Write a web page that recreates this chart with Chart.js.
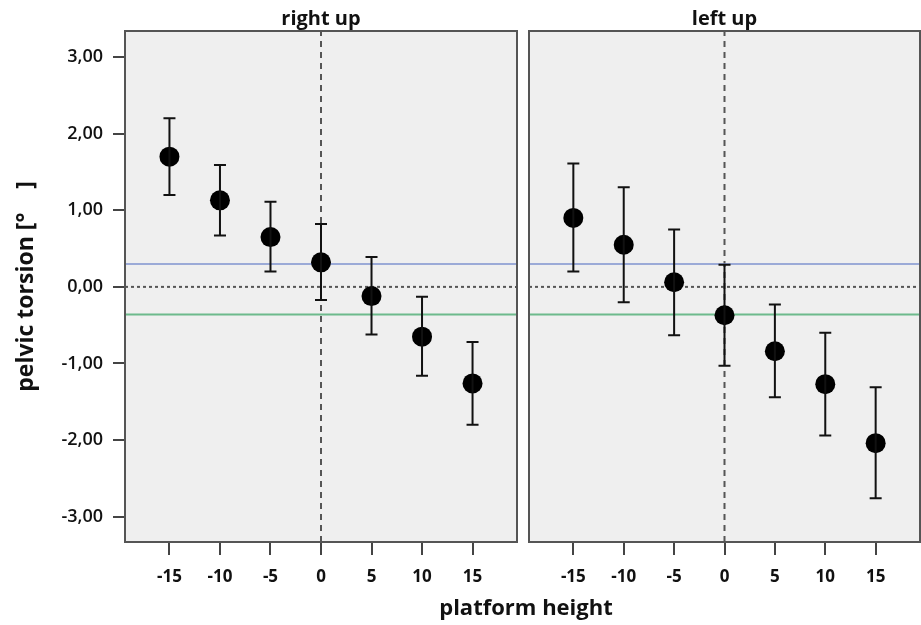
<!DOCTYPE html>
<html>
<head>
  <meta charset="UTF-8">
  <title>pelvic torsion</title>
  <script src="https://cdn.jsdelivr.net/npm/chart.js@4.4.1/dist/chart.umd.min.js"></script>
  <style>
    body { margin: 0; background: #fff; }
    #wrap { position: relative; width: 921px; height: 625px; overflow: hidden; }
    #c1 { position: absolute; left: 0; top: 0; }
    #c2 { position: absolute; left: 523px; top: 0; }
    #xTitle { position: absolute; left: 326px; width: 400px; top: 595px; text-align: center;
              font: bold 22px 'Open Sans', sans-serif; line-height: 22px; color: #111; }
  </style>
</head>
<body>
<div id="wrap">
  <canvas id="c1" width="523" height="625"></canvas>
  <canvas id="c2" width="398" height="625"></canvas>
  <div id="xTitle">platform height</div>
</div>
<script>
  // platform heights (x) and the two panels' means with error bar ends
  var heights = [-15, -10, -5, 0, 5, 10, 15];
  var rightUpMean = [1.70, 1.13, 0.65, 0.32, -0.12, -0.65, -1.26];
  var rightUpLow  = [1.20, 0.67, 0.20, -0.17, -0.62, -1.16, -1.80];
  var rightUpHigh = [2.20, 1.59, 1.11, 0.82, 0.39, -0.13, -0.72];
  var leftUpMean  = [0.90, 0.55, 0.06, -0.37, -0.84, -1.27, -2.04];
  var leftUpLow   = [0.20, -0.20, -0.63, -1.03, -1.44, -1.94, -2.76];
  var leftUpHigh  = [1.61, 1.30, 0.75, 0.29, -0.23, -0.60, -1.31];
  var yTicks = [-3, -2, -1, 0, 1, 2, 3];
  var refBlue = 0.30;   // blue reference line
  var refGreen = -0.36; // green reference line
  var xRange = [-19.4, 19.4];
  var yRange = [-3.33, 3.34];

  Chart.defaults.font.family = "'Open Sans', sans-serif";
  Chart.defaults.color = "#111";

  // grey panel background + frame around the plot area
  var panelBox = {
    id: "panelBox",
    beforeDraw: function(chart) {
      var a = chart.chartArea, ctx = chart.ctx;
      ctx.save();
      ctx.fillStyle = "#efefef";
      ctx.fillRect(a.left, a.top, a.right - a.left, a.bottom - a.top);
      ctx.restore();
    },
    afterDraw: function(chart) {
      var a = chart.chartArea, ctx = chart.ctx;
      ctx.save();
      ctx.strokeStyle = "#555";
      ctx.lineWidth = 2;
      ctx.strokeRect(a.left, a.top, a.right - a.left, a.bottom - a.top);
      ctx.restore();
    }
  };

  // vertical error bars with caps, from the low/high arrays
  var errorBars = {
    id: "errorBars",
    afterDatasetsDraw: function(chart, args, opts) {
      var xs = chart.scales.x, ys = chart.scales.y, ctx = chart.ctx;
      ctx.save();
      ctx.strokeStyle = "#111";
      ctx.lineWidth = 2;
      for (var i = 0; i < heights.length; i++) {
        var x = xs.getPixelForValue(heights[i]);
        var yl = ys.getPixelForValue(opts.low[i]);
        var yh = ys.getPixelForValue(opts.high[i]);
        ctx.beginPath();
        ctx.moveTo(x, yl); ctx.lineTo(x, yh);
        ctx.moveTo(x - 6, yl); ctx.lineTo(x + 6, yl);
        ctx.moveTo(x - 6, yh); ctx.lineTo(x + 6, yh);
        ctx.stroke();
      }
      ctx.restore();
    }
  };

  function hLine(y, color, width, dash) {
    return {
      type: "line", data: [{ x: xRange[0], y: y }, { x: xRange[1], y: y }],
      borderColor: color, borderWidth: width, borderDash: dash || [],
      pointRadius: 0, showLine: true, order: 2
    };
  }

  function makePanel(id, title, mean, low, high, first) {
    var pts = heights.map(function(h, i) { return { x: h, y: mean[i] }; });
    return new Chart(document.getElementById(id), {
      type: "scatter",
      data: {
        datasets: [
          { data: pts, backgroundColor: "#000", borderWidth: 0, pointRadius: 10, order: 0 },
          hLine(refBlue, "#7f93cf", 1.5),
          hLine(refGreen, "#6dba8c", 2),
          hLine(0, "#555", 2, [3, 3]),
          { type: "line", data: [{ x: 0, y: yRange[0] }, { x: 0, y: yRange[1] }],
            borderColor: "#555", borderWidth: 2, borderDash: [6, 5],
            pointRadius: 0, showLine: true, order: 3 }
        ]
      },
      options: {
        responsive: false,
        animation: false,
        layout: {
          autoPadding: false,
          padding: first ? { left: 0, right: 6, top: 0, bottom: 0 } : { left: 6, right: 1, top: 0, bottom: 0 }
        },
        plugins: {
          legend: { display: false },
          tooltip: { enabled: false },
          title: { display: true, text: title, fullSize: false, color: "#111",
                   font: { size: 20, weight: "bold" }, padding: { top: 7, bottom: 0 } },
          errorBars: { low: low, high: high }
        },
        scales: {
          x: {
            type: "linear", min: xRange[0], max: xRange[1],
            afterBuildTicks: function(s) { s.ticks = heights.map(function(v) { return { value: v }; }); },
            afterFit: function(s) { s.height = 83; s.paddingLeft = 0; s.paddingRight = 0; },
            border: { display: false },
            grid: { drawOnChartArea: false, drawTicks: true, tickLength: 13, color: "#444", lineWidth: 2 },
            ticks: { padding: 12, color: "#111", font: { size: 17, weight: "bold" } }
          },
          y: {
            display: first,
            min: yRange[0], max: yRange[1],
            afterBuildTicks: function(s) { s.ticks = yTicks.map(function(v) { return { value: v }; }); },
            afterFit: function(s) { s.width = first ? 125 : 0; s.paddingTop = 0; s.paddingBottom = 0; },
            border: { display: false },
            grid: { drawOnChartArea: false, drawTicks: true, tickLength: 12, color: "#444", lineWidth: 2 },
            ticks: { padding: 10, color: "#111", font: { size: 18, weight: "600" },
                     callback: function(v) { return v.toFixed(2).replace(".", ","); } },
            title: { display: true, text: "pelvic torsion [°    ]", color: "#111",
                     font: { size: 23, weight: "bold" }, padding: { top: 13, bottom: 0 } }
          }
        }
      },
      plugins: [panelBox, errorBars]
    });
  }

  makePanel("c1", "right up", rightUpMean, rightUpLow, rightUpHigh, true);
  makePanel("c2", "left up", leftUpMean, leftUpLow, leftUpHigh, false);
</script>
</body>
</html>
